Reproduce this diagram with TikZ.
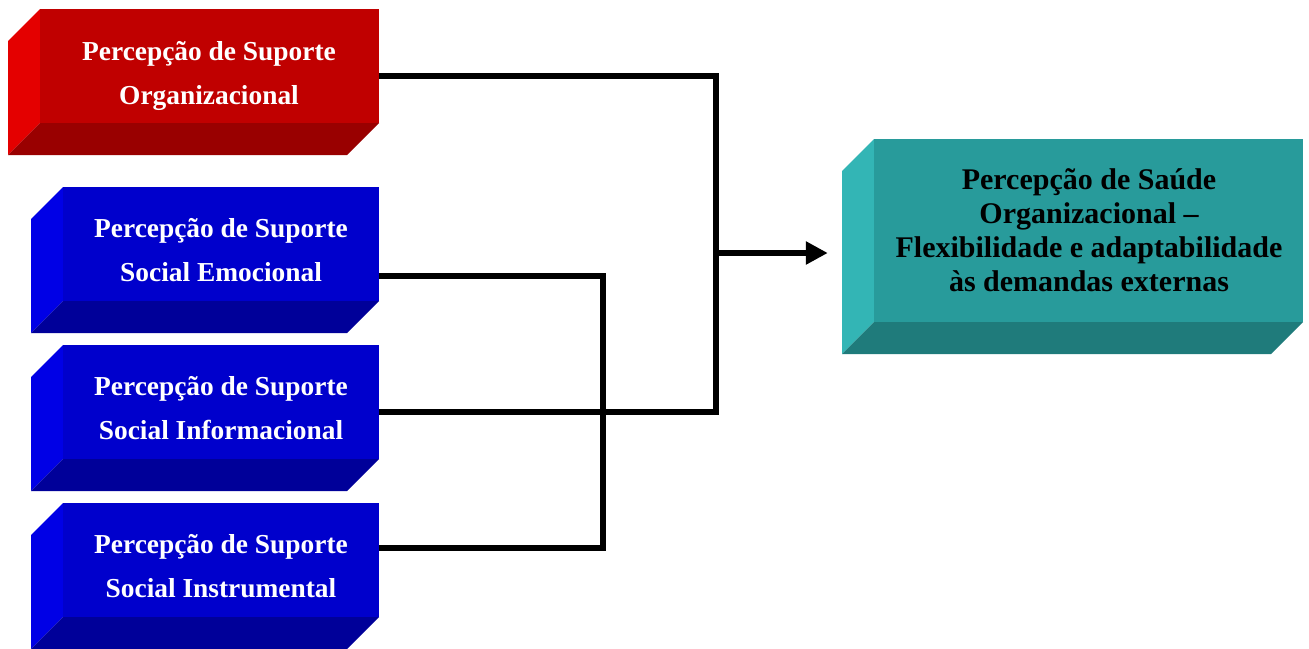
\documentclass[tikz,border=0pt]{standalone}
\usepackage{fontspec}
\setmainfont{Liberation Serif}
\usetikzlibrary{arrows.meta,fit}

% face colours of the slabs: F = front, S = left side, B = bottom
\definecolor{redF}{HTML}{C00000}
\definecolor{redS}{HTML}{E40000}
\definecolor{redB}{HTML}{990000}
\definecolor{bluF}{HTML}{0000CC}
\definecolor{bluS}{HTML}{0000E6}
\definecolor{bluB}{HTML}{000099}
\definecolor{tealF}{HTML}{289B9B}
\definecolor{tealS}{HTML}{33B5B5}
\definecolor{tealB}{HTML}{1F7B7B}

% a bevelled slab: #1 name, (#2,#3) top-left and (#4,#5) bottom-right
% of the front face, #6 colour prefix
\newcommand\slab[6]{%
  \fill[#6S] (#2-32,#3+32) -- (#2,#3) -- (#2,#5) -- (#2-32,#5+32) -- cycle;
  \fill[#6B] (#2-32,#5+32) -- (#2,#5) -- (#4,#5) -- (#4-32,#5+32) -- cycle;
  \coordinate (#1-a) at (#2,#3);
  \coordinate (#1-b) at (#4,#5);
  \node[fit=(#1-a)(#1-b), inner sep=0pt, fill=#6F] (#1) {};
}

\tikzset{
  lbl/.style={align=center, text=white, inner sep=0pt,
    font=\bfseries\fontsize{27.4}{44}\selectfont},
  lblout/.style={align=center, text=black, inner sep=0pt,
    font=\bfseries\fontsize{30}{34}\selectfont},
  wire/.style={line width=5.5pt, draw=black},
}

\begin{document}
\begin{tikzpicture}[x=1pt, y=-1pt]
  \useasboundingbox (0,0) rectangle (1309,648);

  % input slabs
  \slab{org}{40}{9}{379}{123}{red}
  \slab{emo}{63}{187}{379}{301}{blu}
  \slab{inf}{63}{345}{379}{459}{blu}
  \slab{ins}{63}{503}{379}{617}{blu}
  % outcome slab
  \slab{out}{874}{139}{1303}{322}{teal}

  \node[lbl] (orgT) at (209,75.5) {Percepção de Suporte\\Organizacional};
  \node[lbl] (emoT) at (221,250) {Percepção de Suporte\\Social Emocional};
  \node[lbl] (infT) at (221,408) {Percepção de Suporte\\Social Informacional};
  \node[lbl] (insT) at (221,566) {Percepção de Suporte\\Social Instrumental};
  \node[lblout] (outT) at (1089,230) {Percepção de Saúde\\Organizacional –\\Flexibilidade e adaptabilidade\\às demandas externas};

  % junction points of the connectors
  \coordinate (jTop) at (716,76);
  \coordinate (jMid) at (716,253);
  \coordinate (jBot) at (716,412);
  \coordinate (kTop) at (603,276);
  \coordinate (kBot) at (603,548);

  \draw[wire] (org.east |- jTop) -- (jTop) -- (jBot) -- (inf.east |- jBot);
  \draw[wire] (emo.east |- kTop) -- (kTop) -- (kBot) -- (ins.east |- kBot);
  \draw[wire, -{Triangle[length=22pt, width=22pt]}, shorten >=46pt]
    (jMid) -- (out.west |- jMid);
\end{tikzpicture}
\end{document}
